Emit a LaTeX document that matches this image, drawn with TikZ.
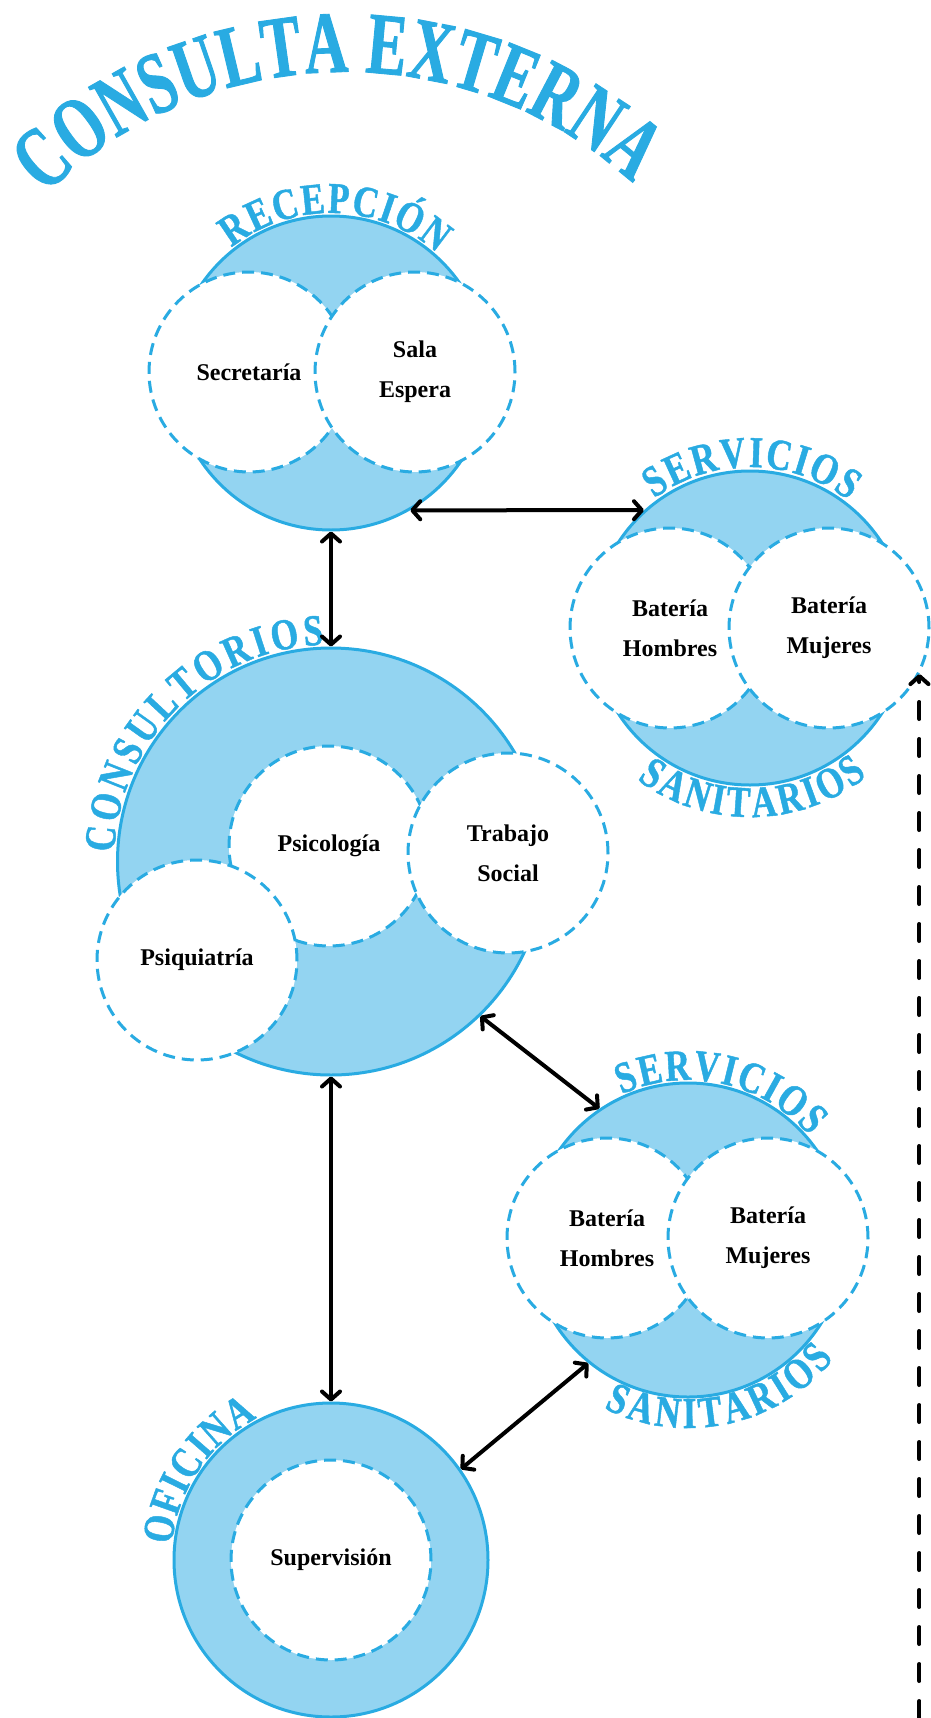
\documentclass[tikz,border=0pt]{standalone}
\usepackage{fontspec}
\setmainfont{Liberation Serif}
\newfontfamily\titlefont{Liberation Serif}[FakeStretch=0.68, FakeBold=1.0]
\newfontfamily\lblfont{Liberation Serif}[FakeStretch=0.8, FakeBold=1.0]
\usetikzlibrary{arrows.meta,decorations.text}
\definecolor{sblue}{HTML}{29ABE2}
\definecolor{lblue}{HTML}{93D4F1}
\newcommand{\lblsz}[1]{\lblfont\bfseries\fontsize{#1}{#1}\selectfont}
\newcommand{\ttlfmt}{\titlefont\bfseries\fontsize{88}{88}\selectfont}
\tikzset{
  zone/.style={circle, draw=sblue, fill=lblue, line width=3pt, inner sep=0pt, minimum size=314pt},
  room/.style={circle, draw=sblue, fill=white, line width=3pt, dash pattern=on 12pt off 7pt,
    inner sep=0pt, minimum size=200pt, align=center, font=\bfseries\fontsize{24}{40}\selectfont},
  link/.style={line width=4pt, black, {Straight Barb[length=8pt,width=18pt,round]}-{Straight Barb[length=8pt,width=18pt,round]}},
  dashlink/.style={line width=4pt, black, line cap=round, dash pattern=on 17pt off 20pt, -{Straight Barb[length=8pt,width=18pt,round]}},
  arclabel/.style={decorate, decoration={text along path, text color=sblue, text align={fit to path}, text={#1}}}
}
\begin{document}
\begin{tikzpicture}[x=1pt,y=1pt]
\fill[white] (0,0) rectangle (930,-1718);
\useasboundingbox (0,0) rectangle (930,-1718);

% title
\path[arclabel={|\ttlfmt|CONSULTA EXTERNA}]
  ([shift={(345,-500)}]134.5:428pt) arc[start angle=134.5, end angle=47.8, radius=428pt];

% Recepcion
\node[zone] (recep) at (331,-373) {};
\node[room] (sec) at (249,-372) {Secretaría};
\node[room] (sala) at (415,-372) {Sala\\Espera};
\path[arclabel={|\lblsz{44}|RECEPCIÓN}]
  ([shift={(331,-373)}]128.5:160pt) arc[start angle=128.5, end angle=48.5, radius=160pt];

% Servicios 1
\node[zone] (serv1) at (750,-628) {};
\node[room] (hom1) at (670,-628) {Batería\\Hombres};
\node[room] (muj1) at (829,-628) {Batería\\Mujeres};
\path[arclabel={|\lblsz{44}|SERVICIOS}]
  ([shift={(750,-628)}]126.5:161pt) arc[start angle=126.5, end angle=52.3, radius=161pt];
\path[arclabel={|\lblsz{44}|SANITARIOS}]
  ([shift={(750,-628)}]233.3:189pt) arc[start angle=233.3, end angle=308.3, radius=189pt];

% Consultorios
\node[zone, minimum size=427pt] (consul) at (331,-861.5) {};
\node[room] (psico) at (329,-846) {Psicología};
\node[room] (trab) at (508,-853) {Trabajo\\Social};
\node[room] (psiq) at (197,-960) {Psiquiatría};
\path[arclabel={|\lblsz{44}|CONSULTORIOS}]
  ([shift={(331,-861.5)}]177.6:217pt) arc[start angle=177.6, end angle=91.9, radius=217pt];

% Servicios 2
\node[zone] (serv2) at (688,-1240) {};
\node[room] (hom2) at (607,-1238) {Batería\\Hombres};
\node[room] (muj2) at (768,-1238) {Batería\\Mujeres};
\path[arclabel={|\lblsz{44}|SERVICIOS}]
  ([shift={(688,-1240)}]114.5:160pt) arc[start angle=114.5, end angle=40.6, radius=160pt];
\path[arclabel={|\lblsz{44}|SANITARIOS}]
  ([shift={(688,-1240)}]243.4:188pt) arc[start angle=243.4, end angle=320.8, radius=188pt];

% Oficina
\node[zone] (ofi) at (331,-1560) {};
\node[room] (sup) at (331,-1560) {Supervisión};
\path[arclabel={|\lblsz{44}|OFICINA}]
  ([shift={(331,-1560)}]174.5:160pt) arc[start angle=174.5, end angle=117.5, radius=160pt];

% connectors
\draw[link] (recep.-60.5) -- (serv1.132.4);
\draw[link] (recep.-90) -- (consul.90);
\draw[link] (consul.-46) -- (serv2.124.7);
\draw[link] (consul.-90) -- (ofi.90);
\draw[link] (serv2.231.3) -- (ofi.35.5);
\coordinate (pagebot) at (0,-1718);
\coordinate (dbot) at (muj1.-27 |- pagebot);
\draw[dashlink] (dbot) -- (muj1.-27);
\end{tikzpicture}
\end{document}
